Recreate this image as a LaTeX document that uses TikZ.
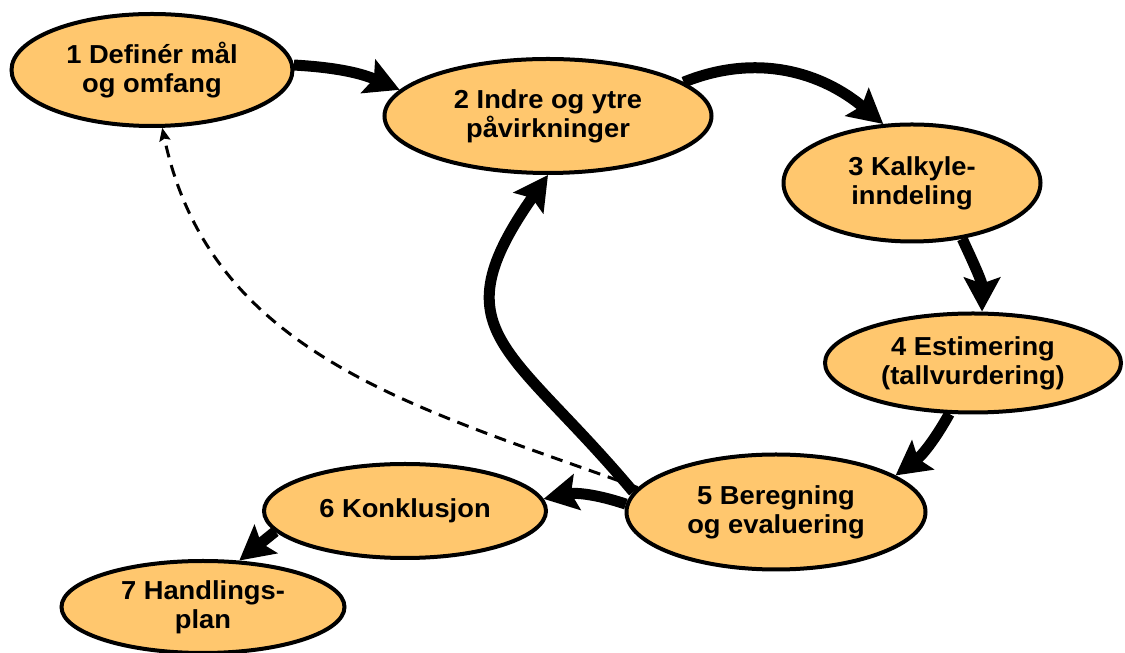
\documentclass[tikz,border=0pt]{standalone}
\usepackage{fontspec}
\setmainfont{Liberation Sans}[FakeStretch=1.05]
\usetikzlibrary{arrows.meta,shapes.geometric}
\definecolor{oransje}{HTML}{FFC76E}

\begin{document}
\begin{tikzpicture}[x=1pt,y=1pt,
    stage/.style={ellipse,draw=black,line width=4pt,fill=oransje,inner sep=0pt,
      align=center,font=\bfseries\fontsize{26}{29}\selectfont},
    flow/.style={-{Stealth[length=34pt,width=36pt,inset=6pt]},line width=11pt},
    back/.style={-{Stealth[length=13pt,width=11pt,inset=2pt]},line width=3pt,
      dash pattern=on 12pt off 8pt}]
  \useasboundingbox (0,0) rectangle (1125,653);
  % stegene
  \node[stage,minimum width=281pt,minimum height=112pt] (maal) at (152,583) {1 Definér mål\\og omfang};
  \node[stage,minimum width=327pt,minimum height=114pt] (paavirk) at (548,537) {2 Indre og ytre\\påvirkninger};
  \node[stage,minimum width=257pt,minimum height=117pt] (kalkyle) at (912,470) {3 Kalkyle-\\inndeling};
  \node[stage,minimum width=296pt,minimum height=99pt] (estim) at (973,290) {4 Estimering\\(tallvurdering)};
  \node[stage,minimum width=299pt,minimum height=115pt] (beregn) at (776,141) {5 Beregning\\og evaluering};
  \node[stage,minimum width=282pt,minimum height=94pt] (konkl) at (405,142) {6 Konklusjon};
  \node[stage,minimum width=283pt,minimum height=92pt] (handl) at (203,46) {7 Handlings-\\plan};
  % piler
  \draw[flow] (maal.2) to[bend left=10] (paavirk.170);
  \draw[flow] (paavirk.14) to[out=22,in=140] (kalkyle.116);
  \draw[flow] (kalkyle.-48) to[out=-65,in=90] (estim.80);
  \draw[flow] (estim.245) to[bend left=12] (beregn.17);
  \draw[flow] (beregn.177) to[bend right=15] (konkl.5);
  \draw[flow] (beregn.172) to[out=130,in=-125,looseness=1.5] (paavirk.270);
  \draw[flow] (konkl.189) -- (handl.52);
  \draw[back] (beregn.170) to[out=160,in=-78] (maal.280);
\end{tikzpicture}
\end{document}
